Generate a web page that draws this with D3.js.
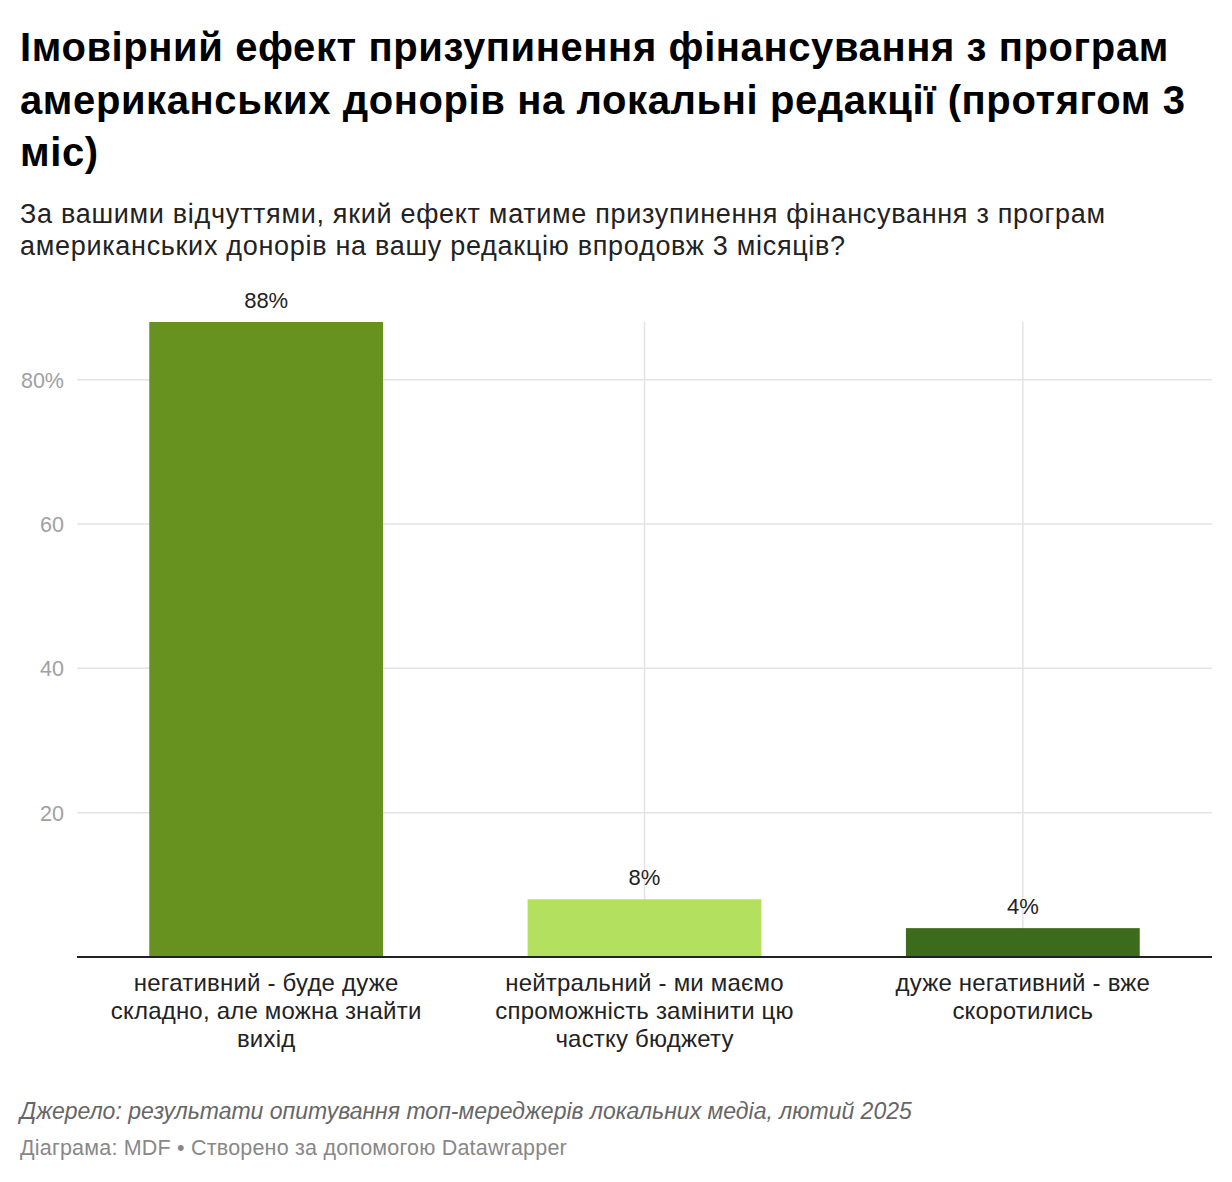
<!DOCTYPE html>
<html>
<head>
<meta charset="utf-8">
<script src="https://cdn.jsdelivr.net/npm/d3@7"></script>
<style>
  body { margin: 0; background: #fff; font-family: "Liberation Sans", Arial, sans-serif; }
  .title { font-weight: 700; font-size: 40px; fill: #000; letter-spacing: 0.6px; }
  .subtitle { font-size: 27px; fill: #222; letter-spacing: 0.7px; }
  .y_axis text { font-size: 21.5px; fill: #a0a0a0; }
  .val { font-size: 22px; fill: #222; }
  .cat { font-size: 24px; fill: #222; letter-spacing: 0.2px; }
  .source { font-size: 23px; fill: #666; font-style: italic; }
  .credit { font-size: 21.5px; fill: #888; letter-spacing: 0.2px; }
</style>
</head>
<body>
<div id="chart"></div>
<script>
var titleLines = [
  "Імовірний ефект призупинення фінансування з програм",
  "американських донорів на локальні редакції (протягом 3",
  "міс)"
];
var subtitleLines = [
  "За вашими відчуттями, який ефект матиме призупинення фінансування з програм",
  "американських донорів на вашу редакцію впродовж 3 місяців?"
];
var categories = [
  ["негативний - буде дуже", "складно, але можна знайти", "вихід"],
  ["нейтральний - ми маємо", "спроможність замінити цю", "частку бюджету"],
  ["дуже негативний - вже", "скоротились"]
];
var values = [88, 8, 4];
var barColors = ["#67921f", "#b4e05f", "#3c6b1b"];
var yTicks = [20, 40, 60, 80];

var width = 1232, height = 1182;
var margin = { top: 322, right: 20, bottom: 225, left: 77 };

var svg = d3.select("#chart").append("svg")
  .attr("width", width)
  .attr("height", height);

// header
svg.append("g").selectAll("text")
  .data(titleLines).enter().append("text")
    .attr("class", "title")
    .attr("x", 20)
    .attr("y", (d, i) => 61 + i * 52.5)
    .text(d => d);

svg.append("g").selectAll("text")
  .data(subtitleLines).enter().append("text")
    .attr("class", "subtitle")
    .attr("x", 20)
    .attr("y", (d, i) => 223 + i * 32)
    .text(d => d);

var x = d3.scaleBand()
  .domain(d3.range(values.length))
  .range([margin.left, width - margin.right])
  .paddingInner(0.382)
  .paddingOuter(0.191);

var y = d3.scaleLinear()
  .domain([0, 88])
  .range([height - margin.bottom, margin.top]);

var plot = svg.append("g");

// horizontal grid
plot.selectAll("line.hgrid")
  .data(yTicks).enter().append("line")
    .attr("class", "hgrid")
    .attr("x1", margin.left)
    .attr("x2", width - margin.right)
    .attr("y1", d => y(d))
    .attr("y2", d => y(d))
    .attr("stroke", "#e3e3e3")
    .attr("stroke-width", 1.5);

// vertical grid through bar centers
plot.selectAll("line.vgrid")
  .data(d3.range(values.length)).enter().append("line")
    .attr("class", "vgrid")
    .attr("x1", d => x(d) + x.bandwidth() / 2)
    .attr("x2", d => x(d) + x.bandwidth() / 2)
    .attr("y1", y(88))
    .attr("y2", y(0))
    .attr("stroke", "#e3e3e3")
    .attr("stroke-width", 1.5);

var yAxis = d3.axisLeft(y)
  .tickValues(yTicks)
  .tickSize(0)
  .tickPadding(13)
  .tickFormat(d => d === 80 ? d + "%" : d);

svg.append("g")
  .attr("class", "y_axis")
  .attr("transform", "translate(" + margin.left + ",0)")
  .call(yAxis)
  .call(g => g.select(".domain").remove())
  .selectAll("text")
    .attr("font-family", "'Liberation Sans', Arial, sans-serif")
    .attr("dy", "0.35em");

plot.selectAll("rect")
  .data(values).enter().append("rect")
    .attr("x", (d, i) => x(i))
    .attr("y", d => y(d))
    .attr("width", x.bandwidth())
    .attr("height", d => y(0) - y(d))
    .attr("fill", (d, i) => barColors[i]);

plot.selectAll("text.val")
  .data(values).enter().append("text")
    .attr("class", "val")
    .attr("text-anchor", "middle")
    .attr("x", (d, i) => x(i) + x.bandwidth() / 2)
    .attr("y", d => y(d) - 14)
    .text(d => d + "%");

// baseline
plot.append("line")
  .attr("x1", margin.left)
  .attr("x2", width - margin.right)
  .attr("y1", y(0))
  .attr("y2", y(0))
  .attr("stroke", "#222")
  .attr("stroke-width", 2);

// category labels
var cat = plot.selectAll("text.cat")
  .data(categories).enter().append("text")
    .attr("class", "cat")
    .attr("text-anchor", "middle")
    .attr("x", (d, i) => x(i) + x.bandwidth() / 2)
    .attr("y", y(0) + 34);

cat.selectAll("tspan")
  .data(d => d).enter().append("tspan")
    .attr("x", function() { return this.parentNode.getAttribute("x"); })
    .attr("dy", (d, i) => i === 0 ? 0 : 28)
    .text(d => d);

// footer
svg.append("text")
  .attr("class", "source")
  .attr("x", 20)
  .attr("y", 1119)
  .text("Джерело: результати опитування топ-мереджерів локальних медіа, лютий 2025");

svg.append("text")
  .attr("class", "credit")
  .attr("x", 20)
  .attr("y", 1155)
  .text("Діаграма: MDF • Створено за допомогою Datawrapper");
</script>
</body>
</html>
